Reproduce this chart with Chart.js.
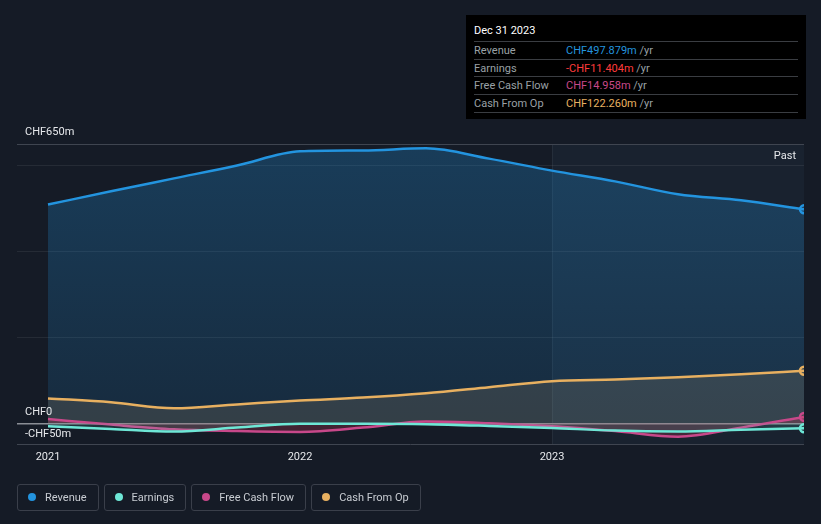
<!DOCTYPE html>
<html>
<head>
<meta charset="utf-8">
<script src="https://cdn.jsdelivr.net/npm/chart.js@4/dist/chart.umd.min.js"></script>
<style>
  html, body { margin: 0; padding: 0; background: #151b26; }
  body { width: 821px; height: 524px; position: relative; overflow: hidden; font-family: Roboto, "Noto Sans", sans-serif; }
  #chart { position: absolute; left: 0; top: 0; }
  .tip { position: absolute; left: 466px; top: 15px; width: 340px; height: 104px; background: #000; }
  .tip .title { position: absolute; left: 8px; top: 9px; color: #fff; font-size: 11px; }
  .tip .row { position: absolute; left: 8px; width: 324px; height: 17px; border-top: 1px solid #3a3d42; font-size: 11px; line-height: 17px; }
  .tip .lab { position: absolute; left: 0; color: #9aa0a6; }
  .tip .val { position: absolute; left: 92px; }
  .tip .yr { color: #9aa0a6; }
  .legend { position: absolute; top: 484px; left: 17px; display: flex; gap: 5px; }
  .legend div { border: 1px solid #3a3f4a; border-radius: 3px; height: 25px; line-height: 25px; padding: 0 11px 0 10px; color: #c8ccd2; font-size: 11px; }
  .legend span { display: inline-block; width: 8px; height: 8px; border-radius: 50%; margin-right: 9px; }
</style>
</head>
<body>
<canvas id="chart" width="821" height="524"></canvas>
<div class="tip">
  <div class="title">Dec 31 2023</div>
  <div class="row" style="top:26px"><span class="lab">Revenue</span><span class="val"><span style="color:#2394df">CHF497.879m</span> <span class="yr">/yr</span></span></div>
  <div class="row" style="top:43.5px"><span class="lab">Earnings</span><span class="val"><span style="color:#ff3b3b">-CHF11.404m</span> <span class="yr">/yr</span></span></div>
  <div class="row" style="top:61px"><span class="lab">Free Cash Flow</span><span class="val"><span style="color:#c8488a">CHF14.958m</span> <span class="yr">/yr</span></span></div>
  <div class="row" style="top:78.5px; border-bottom:1px solid #3a3d42"><span class="lab">Cash From Op</span><span class="val"><span style="color:#e8b060">CHF122.260m</span> <span class="yr">/yr</span></span></div>
</div>
<div class="legend">
  <div><span style="background:#2394df"></span>Revenue</div>
  <div><span style="background:#6ee7d6"></span>Earnings</div>
  <div><span style="background:#c8488a"></span>Free Cash Flow</div>
  <div><span style="background:#e8b060"></span>Cash From Op</div>
</div>
<script>
// quarterly points, values in CHF m
const dates = [2021.0, 2021.25, 2021.5, 2021.75, 2022.0, 2022.25, 2022.5, 2022.75, 2023.0, 2023.25, 2023.5, 2023.75, 2024.0];
const revenue = [509, 540, 570, 600, 633, 635, 640, 616, 588, 563, 533, 519, 497.879];
const earnings = [-7, -13, -19, -10, -1, -1, -2, -6, -11, -17, -19, -15, -11.404];
const freeCashFlow = [10, -3, -14, -18, -20, -10, 4, 0, -7, -18, -31, -10, 14.958];
const cashFromOp = [58, 49, 35, 44, 53, 60, 70, 84, 98, 102, 107, 114, 122.26];
const yLabels = [[650, 'CHF650m'], [0, 'CHF0'], [-50, '-CHF50m']];
const xTicks = [2021, 2022, 2023];
const pastStart = 2023;

const pts = arr => arr.map((v, i) => ({ x: dates[i], y: v }));
const lastOnly = ctx => ctx.dataIndex === dates.length - 1 ? 4 : 0;

const bgPlugin = {
  id: 'bg',
  beforeDraw(chart) {
    const { ctx, chartArea: a, scales: { x } } = chart;
    const px = x.getPixelForValue(pastStart);
    ctx.save();
    ctx.fillStyle = '#151b26';
    ctx.fillRect(a.left, a.top, px - a.left, a.bottom - a.top);
    ctx.fillStyle = '#19222f';
    ctx.fillRect(px, a.top, a.right - px, a.bottom - a.top);
    ctx.strokeStyle = 'rgba(255,255,255,0.06)';
    ctx.beginPath(); ctx.moveTo(px + 0.5, a.top); ctx.lineTo(px + 0.5, a.bottom); ctx.stroke();
    ctx.restore();
  },
  afterDraw(chart) {
    const { ctx, chartArea: a, scales: { y } } = chart;
    ctx.save();
    ctx.font = '11px Roboto';
    ctx.fillStyle = '#e6e8eb';
    ctx.textBaseline = 'middle';
    yLabels.forEach(([v, t]) => {
      const py = y.getPixelForValue(v);
      ctx.fillText(t, 25, v === 650 ? py - 12 : py - 11);
    });
    ctx.textAlign = 'right';
    ctx.fillText('Past', a.right - 8, a.top + 12);
    ctx.restore();
  }
};

new Chart(document.getElementById('chart'), {
  type: 'line',
  data: {
    datasets: [
      {
        label: 'Revenue', data: pts(revenue), borderColor: '#2394df', borderWidth: 2.5,
        fill: 'origin', order: 4,
        backgroundColor: ctx => {
          const a = ctx.chart.chartArea;
          if (!a) return 'rgba(35,148,223,0.2)';
          const g = ctx.chart.ctx.createLinearGradient(0, a.top, 0, a.bottom);
          g.addColorStop(0, 'rgba(35,148,223,0.28)');
          g.addColorStop(1, 'rgba(35,148,223,0.12)');
          return g;
        }
      },
      {
        label: 'Cash From Op', data: pts(cashFromOp), borderColor: '#e8b060', borderWidth: 2.5,
        fill: 'origin', backgroundColor: 'rgba(200,170,120,0.16)', order: 3
      },
      {
        label: 'Free Cash Flow', data: pts(freeCashFlow), borderColor: '#c8488a', borderWidth: 2.5,
        fill: 'origin', backgroundColor: 'rgba(200,60,90,0.25)', order: 2
      },
      {
        label: 'Earnings', data: pts(earnings), borderColor: '#6ee7d6', borderWidth: 2.5,
        fill: 'origin', backgroundColor: 'rgba(110,231,214,0.12)', order: 1
      }
    ]
  },
  options: {
    responsive: false,
    animation: false,
    layout: { padding: { left: 17, right: 17, top: 144, bottom: 54 } },
    elements: {
      line: { tension: 0.4, cubicInterpolationMode: 'monotone' },
      point: {
        radius: lastOnly, hoverRadius: 0, borderColor: '#ffffff', borderWidth: 1,
        backgroundColor: ctx => ctx.dataset.borderColor
      }
    },
    plugins: { legend: { display: false }, tooltip: { enabled: false } },
    scales: {
      x: {
        type: 'linear', min: 2020.877, max: 2024.0,
        afterBuildTicks: s => { s.ticks = xTicks.map(v => ({ value: v })); },
        ticks: { color: '#e6e8eb', font: { family: 'Roboto', size: 11 }, padding: 6, callback: v => String(v) },
        grid: { display: false, drawTicks: false },
        border: { display: false }
      },
      y: {
        min: -50, max: 650,
        afterBuildTicks: s => { s.ticks = [-50, 0, 200, 400, 600, 650].map(v => ({ value: v })); },
        ticks: { display: false },
        grid: {
          drawTicks: false,
          color: ctx => {
            const v = ctx.tick.value;
            if (v === 0) return '#8a8e95';
            if (v === -50 || v === 650) return '#3f4550';
            return 'rgba(255,255,255,0.07)';
          },
          lineWidth: ctx => ctx.tick.value === 0 ? 1.5 : 1
        },
        border: { display: false }
      }
    }
  },
  plugins: [bgPlugin]
});
</script>
</body>
</html>
